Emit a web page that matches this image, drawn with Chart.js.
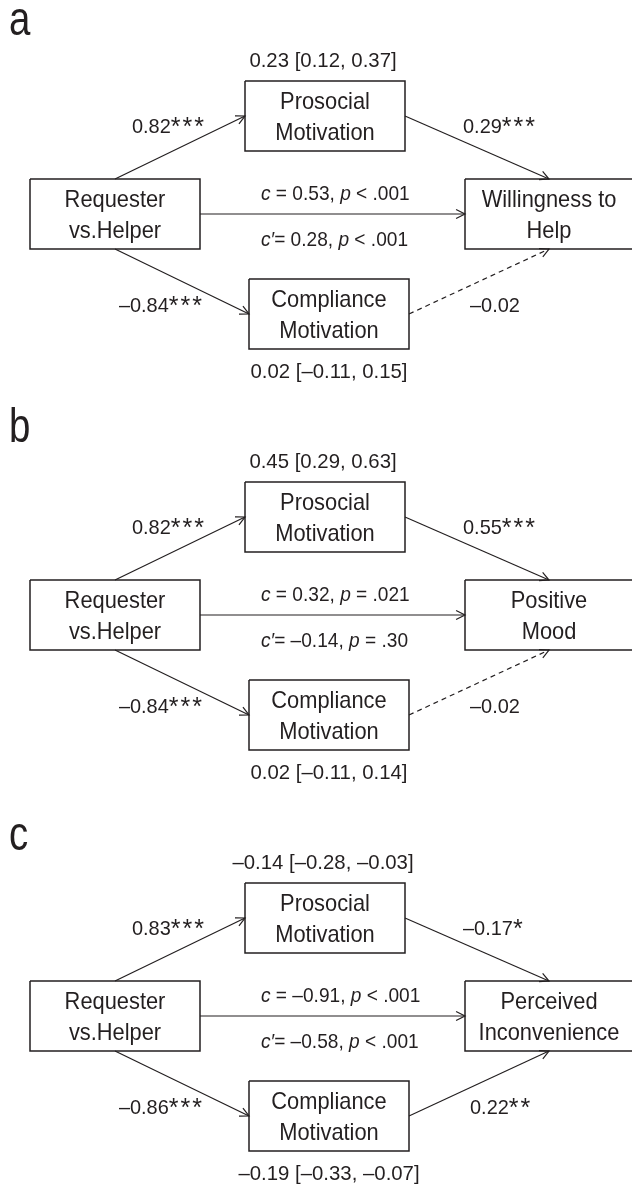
<!DOCTYPE html>
<html>
<head>
<meta charset="utf-8">
<script src="https://cdn.jsdelivr.net/npm/chart.js@4.4.0/dist/chart.umd.min.js"></script>
<style>
  html, body { margin: 0; padding: 0; background: #fff; }
  canvas { display: block; }
</style>
</head>
<body>
<canvas id="diagram" width="632" height="1187"></canvas>
<script>
// ---- data ----
const panelLetters = ["a", "b", "c"];
const predictorLabel = "Requester\nvs.Helper";
const prosocialLabel = "Prosocial\nMotivation";
const complianceLabel = "Compliance\nMotivation";
const outcomeLabels = ["Willingness to\nHelp", "Positive\nMood", "Perceived\nInconvenience"];

const pathA1 = [0.82, 0.82, 0.83];
const starsA1 = ["***", "***", "***"];
const pathB1 = [0.29, 0.55, -0.17];
const starsB1 = ["***", "***", "*"];
const pathA2 = [-0.84, -0.84, -0.86];
const starsA2 = ["***", "***", "***"];
const pathB2 = [-0.02, -0.02, 0.22];
const starsB2 = ["", "", "**"];

const totalC = [0.53, 0.32, -0.91];
const totalP = ["< .001", "= .021", "< .001"];
const directC = [0.28, -0.14, -0.58];
const directP = ["< .001", "= .30", "< .001"];

const indirectProsocial = [0.23, 0.45, -0.14];
const ciProsocial = [[0.12, 0.37], [0.29, 0.63], [-0.28, -0.03]];
const indirectCompliance = [0.02, 0.02, -0.19];
const ciCompliance = [[-0.11, 0.15], [-0.11, 0.14], [-0.33, -0.07]];

// ---- layout (axis units, one panel) ----
const PANEL_STEP = 401;
const LETTER_BASE = [35, 41, 48];
const BOX = {
  pred: { x0: 30, x1: 200, y0: 179, y1: 249 },
  pro: { x0: 245, x1: 405, y0: 81, y1: 151 },
  comp: { x0: 249, x1: 409, y0: 279, y1: 349 },
  out: { x0: 465, x1: 633, y0: 179, y1: 249 },
};
const INK = "#231f20";
const FONT = "'Liberation Sans', Arial, sans-serif";

function anchor(name, side, oy) {
  const b = BOX[name];
  const cx = (b.x0 + b.x1) / 2, cy = (b.y0 + b.y1) / 2 + oy;
  if (side === "top") return { x: cx, y: b.y0 + oy };
  if (side === "bottom") return { x: cx, y: b.y1 + oy };
  if (side === "left") return { x: b.x0, y: cy };
  return { x: b.x1, y: cy };
}

function fmt(v) {
  return (v < 0 ? "\u2013" : "") + Math.abs(v).toFixed(2);
}

const PATHS = [
  { from: ["pred", "top"], to: ["pro", "left"], coef: pathA1, stars: starsA1, lab: { x: 206, y: 133, align: "right" } },
  { from: ["pro", "right"], to: ["out", "top"], coef: pathB1, stars: starsB1, lab: { x: 463, y: 133, align: "left" } },
  { from: ["pred", "bottom"], to: ["comp", "left"], coef: pathA2, stars: starsA2, lab: { x: 204, y: 312, align: "right" } },
  { from: ["comp", "right"], to: ["out", "bottom"], coef: pathB2, stars: starsB2, lab: { x: 470, y: 312, align: "left" } },
];

// ---- datasets: boxes and arrows as line series ----
const datasets = [];
const texts = [];

panelLetters.forEach((letter, k) => {
  const oy = k * PANEL_STEP;

  Object.keys(BOX).forEach((name) => {
    const b = BOX[name];
    datasets.push({
      data: [
        { x: b.x0, y: b.y0 + oy }, { x: b.x1, y: b.y0 + oy },
        { x: b.x1, y: b.y1 + oy }, { x: b.x0, y: b.y1 + oy },
        { x: b.x0, y: b.y0 + oy },
      ],
      borderColor: INK, borderWidth: 1.5, borderJoinStyle: "miter",
    });
  });

  PATHS.forEach((p) => {
    const sig = p.stars[k] !== "";
    datasets.push({
      data: [anchor(p.from[0], p.from[1], oy), anchor(p.to[0], p.to[1], oy)],
      borderColor: INK, borderWidth: 1.2,
      borderDash: sig ? [] : [5, 4],
      arrow: true,
    });
    texts.push({
      x: p.lab.x, y: p.lab.y + oy, align: p.lab.align,
      parts: [{ t: fmt(p.coef[k]) }, { t: p.stars[k], star: true }],
    });
  });

  // direct path c / c'
  datasets.push({
    data: [anchor("pred", "right", oy), anchor("out", "left", oy)],
    borderColor: INK, borderWidth: 1.2, arrow: true,
  });
  texts.push({ x: 261, y: 200 + oy, align: "left", sx: 0.91,
    parts: [{ t: "c", it: true }, { t: " = " + fmt(totalC[k]) + ", " }, { t: "p", it: true }, { t: " " + totalP[k] }] });
  texts.push({ x: 261, y: 246 + oy, align: "left", sx: 0.91,
    parts: [{ t: "c\u2032", it: true }, { t: "= " + fmt(directC[k]) + ", " }, { t: "p", it: true }, { t: " " + directP[k] }] });

  // indirect effects
  const ci1 = ciProsocial[k], ci2 = ciCompliance[k];
  texts.push({ x: 323, y: 67 + oy, align: "center", sx: 0.97,
    parts: [{ t: fmt(indirectProsocial[k]) + " [" + fmt(ci1[0]) + ", " + fmt(ci1[1]) + "]" }] });
  texts.push({ x: 329, y: 378 + oy, align: "center", sx: 0.97,
    parts: [{ t: fmt(indirectCompliance[k]) + " [" + fmt(ci2[0]) + ", " + fmt(ci2[1]) + "]" }] });

  // box labels
  const boxText = [["pred", predictorLabel], ["pro", prosocialLabel], ["comp", complianceLabel], ["out", outcomeLabels[k]]];
  boxText.forEach(([name, label]) => {
    const b = BOX[name];
    const cy = (b.y0 + b.y1) / 2 + oy;
    const cx = name === "out" ? 549 : (b.x0 + b.x1) / 2;
    label.split("\n").forEach((line, li) => {
      texts.push({ x: cx, y: cy - 7 + li * 31, align: "center", parts: [{ t: line, box: true }] });
    });
  });

  texts.push({ x: 9, y: LETTER_BASE[k] + oy, align: "left", parts: [{ t: letter, letter: true }] });
});

// ---- drawing helpers ----
function partStyle(p, item) {
  if (p.letter) return { font: "48px " + FONT, sx: 0.8, ls: 0, dy: 0 };
  if (p.box) return { font: "24px " + FONT, sx: 0.91, ls: 0, dy: 0 };
  if (p.star) return { font: "25px " + FONT, sx: 1, ls: 2, dy: 2 };
  return { font: (p.it ? "italic " : "") + "21px " + FONT, sx: item.sx || 0.95, ls: 0, dy: 0 };
}

function drawRich(ctx, item, px, py) {
  const widths = item.parts.map((p) => {
    const s = partStyle(p, item);
    ctx.font = s.font;
    return ctx.measureText(p.t).width * s.sx + s.ls * p.t.length;
  });
  const total = widths.reduce((a, b) => a + b, 0);
  let x = item.align === "center" ? px - total / 2 : item.align === "right" ? px - total : px;
  item.parts.forEach((p, i) => {
    const s = partStyle(p, item);
    ctx.save();
    ctx.font = s.font;
    ctx.fillStyle = INK;
    ctx.textBaseline = "alphabetic";
    ctx.textAlign = "left";
    ctx.translate(x, py + s.dy);
    ctx.scale(s.sx, 1);
    if (s.ls) {
      let cx = 0;
      for (const ch of p.t) {
        ctx.fillText(ch, cx, 0);
        cx += ctx.measureText(ch).width + s.ls / s.sx;
      }
    } else {
      ctx.fillText(p.t, 0, 0);
    }
    ctx.restore();
    x += widths[i];
  });
}

const diagramPlugin = {
  id: "diagram",
  beforeDraw(chart) {
    const ctx = chart.ctx;
    ctx.save();
    ctx.fillStyle = "#fff";
    ctx.fillRect(0, 0, chart.width, chart.height);
    ctx.restore();
  },
  afterDatasetsDraw(chart) {
    const ctx = chart.ctx;
    const xs = chart.scales.x, ys = chart.scales.y;

    // open arrowheads at the end of each path
    chart.data.datasets.forEach((ds, i) => {
      if (!ds.arrow) return;
      const pts = chart.getDatasetMeta(i).data;
      const a = pts[0], b = pts[pts.length - 1];
      const ang = Math.atan2(b.y - a.y, b.x - a.x);
      const len = 10, spread = 0.47;
      ctx.save();
      ctx.strokeStyle = INK;
      ctx.lineWidth = 1.2;
      ctx.setLineDash([]);
      ctx.beginPath();
      ctx.moveTo(b.x - len * Math.cos(ang - spread), b.y - len * Math.sin(ang - spread));
      ctx.lineTo(b.x, b.y);
      ctx.lineTo(b.x - len * Math.cos(ang + spread), b.y - len * Math.sin(ang + spread));
      ctx.stroke();
      ctx.restore();
    });

    texts.forEach((t) => drawRich(ctx, t, xs.getPixelForValue(t.x), ys.getPixelForValue(t.y)));
  },
};

new Chart(document.getElementById("diagram"), {
  type: "scatter",
  data: { datasets },
  options: {
    responsive: false,
    animation: false,
    devicePixelRatio: 1,
    layout: { padding: 0 },
    elements: {
      line: { tension: 0, fill: false },
      point: { radius: 0, hoverRadius: 0 },
    },
    datasets: { scatter: { showLine: true, clip: false } },
    scales: {
      x: { type: "linear", min: 0, max: 632, display: false },
      y: { type: "linear", min: 0, max: 1187, reverse: true, display: false },
    },
    plugins: { legend: { display: false }, tooltip: { enabled: false } },
  },
  plugins: [diagramPlugin],
});
</script>
</body>
</html>
